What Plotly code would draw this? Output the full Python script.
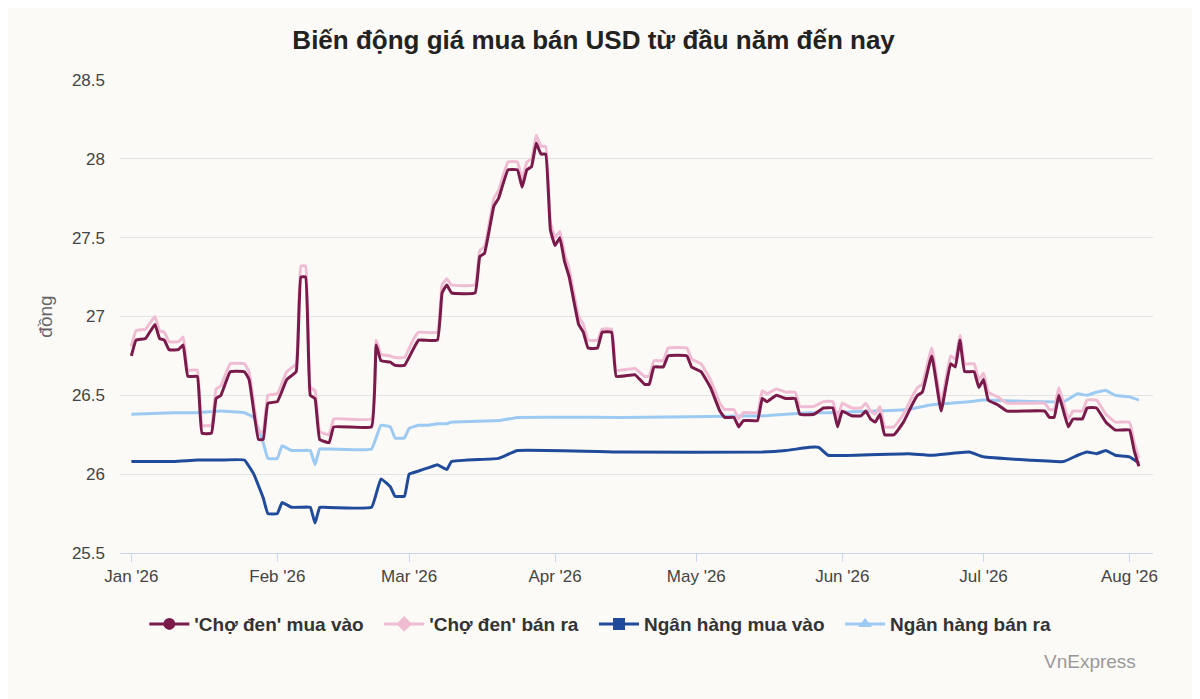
import plotly.graph_objects as go

cho_dates = ["01-01","01-02","01-04","01-06","01-07","01-08","01-09","01-11","01-12","01-13","01-15","01-16","01-18","01-19","01-20","01-22","01-25","01-26","01-28","01-29","01-30","02-01","02-03","02-05","02-06","02-07","02-08","02-09","02-10","02-12","02-13","02-21","02-22","02-23","02-25","02-26","02-28","03-02","03-03","03-07","03-08","03-09","03-10","03-15","03-16","03-17","03-19","03-20","03-22","03-24","03-25","03-26","03-27","03-28","03-29","03-30","03-31","04-01","04-02","04-03","04-04","04-06","04-07","04-08","04-10","04-11","04-13","04-14","04-18","04-20","04-21","04-22","04-24","04-25","04-29","04-30","05-02","05-04","05-06","05-07","05-09","05-10","05-11","05-14","05-15","05-16","05-18","05-20","05-22","05-23","05-26","05-28","05-30","05-31","06-01","06-03","06-05","06-06","06-07","06-08","06-09","06-10","06-12","06-14","06-16","06-17","06-18","06-20","06-22","06-24","06-25","06-26","06-27","06-29","06-30","07-01","07-02","07-04","07-06","07-14","07-15","07-16","07-17","07-19","07-20","07-22","07-23","07-25","07-27","07-29","08-01","08-02","08-03"]
cho_mua = [26.75,26.85,26.86,26.95,26.86,26.85,26.79,26.79,26.82,26.62,26.62,26.26,26.26,26.48,26.50,26.65,26.65,26.60,26.22,26.22,26.45,26.46,26.60,26.65,27.25,27.25,26.50,26.48,26.22,26.20,26.30,26.30,26.82,26.72,26.71,26.69,26.69,26.80,26.85,26.85,27.15,27.20,27.15,27.15,27.38,27.40,27.70,27.75,27.93,27.93,27.82,27.93,27.95,28.10,28.03,28.03,27.55,27.45,27.50,27.35,27.25,26.95,26.90,26.80,26.80,26.90,26.90,26.62,26.63,26.57,26.57,26.68,26.68,26.75,26.75,26.68,26.65,26.55,26.40,26.36,26.36,26.30,26.34,26.34,26.48,26.46,26.50,26.48,26.48,26.38,26.38,26.42,26.42,26.30,26.40,26.37,26.37,26.40,26.35,26.33,26.38,26.25,26.25,26.33,26.45,26.50,26.52,26.75,26.40,26.70,26.68,26.85,26.65,26.65,26.55,26.60,26.47,26.44,26.40,26.40,26.36,26.36,26.50,26.30,26.35,26.35,26.42,26.42,26.33,26.28,26.28,26.15,26.05]
cho_ban = [26.81,26.91,26.92,27.00,26.91,26.90,26.84,26.84,26.87,26.66,26.66,26.31,26.31,26.54,26.56,26.70,26.70,26.65,26.27,26.27,26.50,26.51,26.65,26.70,27.32,27.32,26.55,26.53,26.27,26.25,26.35,26.35,26.85,26.76,26.75,26.74,26.74,26.86,26.90,26.90,27.20,27.24,27.20,27.20,27.42,27.44,27.75,27.80,27.98,27.98,27.87,27.98,28.00,28.15,28.08,28.08,27.60,27.50,27.54,27.40,27.30,27.00,26.95,26.85,26.85,26.92,26.92,26.66,26.67,26.62,26.62,26.72,26.72,26.80,26.80,26.73,26.70,26.60,26.45,26.41,26.41,26.35,26.39,26.39,26.53,26.51,26.54,26.52,26.52,26.43,26.43,26.46,26.46,26.35,26.45,26.42,26.42,26.45,26.40,26.38,26.43,26.30,26.30,26.38,26.50,26.55,26.57,26.80,26.45,26.75,26.73,26.88,26.70,26.70,26.60,26.64,26.52,26.49,26.45,26.45,26.41,26.41,26.55,26.35,26.40,26.40,26.47,26.47,26.38,26.33,26.33,26.20,26.10]

nh_dates = ["01-01","01-10","01-15","01-20","01-25","01-27","01-29","01-30","02-01","02-02","02-04","02-06","02-08","02-09","02-10","02-11","02-21","02-23","02-25","02-26","02-28","03-01","03-03","03-05","03-07","03-09","03-10","03-20","03-24","04-15","05-15","05-20","05-25","05-27","05-29","06-15","06-20","06-28","07-01","07-18","07-21","07-23","07-25","07-27","07-29","08-01","08-03"]
nh_mua = [26.08,26.08,26.09,26.09,26.09,26.00,25.85,25.75,25.75,25.82,25.79,25.79,25.79,25.69,25.79,25.79,25.79,25.97,25.92,25.86,25.86,26.00,26.02,26.04,26.06,26.03,26.08,26.10,26.15,26.14,26.14,26.15,26.17,26.17,26.12,26.13,26.12,26.14,26.11,26.08,26.12,26.14,26.13,26.15,26.12,26.11,26.07]
nh_ban = [26.38,26.39,26.39,26.40,26.39,26.36,26.20,26.10,26.10,26.18,26.15,26.15,26.15,26.06,26.16,26.16,26.16,26.31,26.30,26.23,26.23,26.29,26.31,26.31,26.32,26.32,26.33,26.34,26.36,26.36,26.37,26.38,26.39,26.39,26.39,26.41,26.44,26.46,26.47,26.46,26.51,26.50,26.52,26.53,26.50,26.49,26.47]

names = ["<b>'Chợ đen' mua vào</b>  ", "<b>'Chợ đen' bán ra</b>  ", "<b>Ngân hàng mua vào</b>  ", "<b>Ngân hàng bán ra</b>"]
colors = ["#7a1a4a", "#f0bcd3", "#204b9b", "#9ccaf2"]
symbols = ["circle", "diamond", "square", "triangle-up"]

def d(lst):
    return ["2026-" + s for s in lst]

series = [(d(nh_dates), nh_ban, 3), (d(nh_dates), nh_mua, 2), (d(cho_dates), cho_ban, 1), (d(cho_dates), cho_mua, 0)]
fig = go.Figure()
for x, y, i in series:
    fig.add_trace(go.Scatter(x=x, y=y, mode="lines", line=dict(color=colors[i], width=3, shape="spline", smoothing=0.3),
                             showlegend=False, hoverinfo="skip"))
for i in range(4):
    fig.add_trace(go.Scatter(x=[None], y=[None], mode="lines+markers", name=names[i],
                             line=dict(color=colors[i], width=3), marker=dict(symbol=symbols[i], size=12, color=colors[i])))

fig.update_layout(
    width=1200, height=699, paper_bgcolor="#fbfaf7", plot_bgcolor="#fbfaf7",
    margin=dict(l=112, r=55, t=72, b=154),
    title=dict(text="<b>Biến động giá mua bán USD từ đầu năm đến nay</b>", x=0.488, xanchor="center", y=0.955, yanchor="middle",
               font=dict(family="Liberation Sans, Arial", size=26, color="#222")),
    font=dict(family="Liberation Sans, Arial", color="#555", size=17),
    xaxis=dict(range=["2025-12-29 14:00", "2026-08-06 00:00"], tickvals=d(["01-01","02-01","03-01","04-01","05-01","06-01","07-01","08-01"]),
               ticktext=["Jan '26","Feb '26","Mar '26","Apr '26","May '26","Jun '26","Jul '26","Aug '26"],
               showgrid=False, showline=True, linecolor="#c8d6f0", linewidth=1, ticks="outside", tickcolor="#c8d6f0", ticklen=8,
               tickfont=dict(size=17, color="#444"), zeroline=False),
    yaxis=dict(range=[25.5, 28.5], tickvals=[25.5,26,26.5,27,27.5,28,28.5], ticktext=["25.5","26","26.5","27","27.5","28","28.5"],
               gridcolor="#e3e3e3", showline=False, zeroline=False, tickfont=dict(size=17, color="#444"), ticklabelstandoff=14,
               title=dict(text="đồng", font=dict(size=19, color="#666"), standoff=14)),
    legend=dict(orientation="h", x=0.465, xanchor="center", y=-0.11, yanchor="top", font=dict(size=19, color="#333"),
                itemwidth=40, tracegroupgap=0, bgcolor="rgba(0,0,0,0)"),
    annotations=[dict(text="VnExpress", x=0.985, y=-0.23, xref="paper", yref="paper", xanchor="right", yanchor="middle",
                      showarrow=False, font=dict(size=19, color="#999"))],
)
fig.write_html("out.html")
